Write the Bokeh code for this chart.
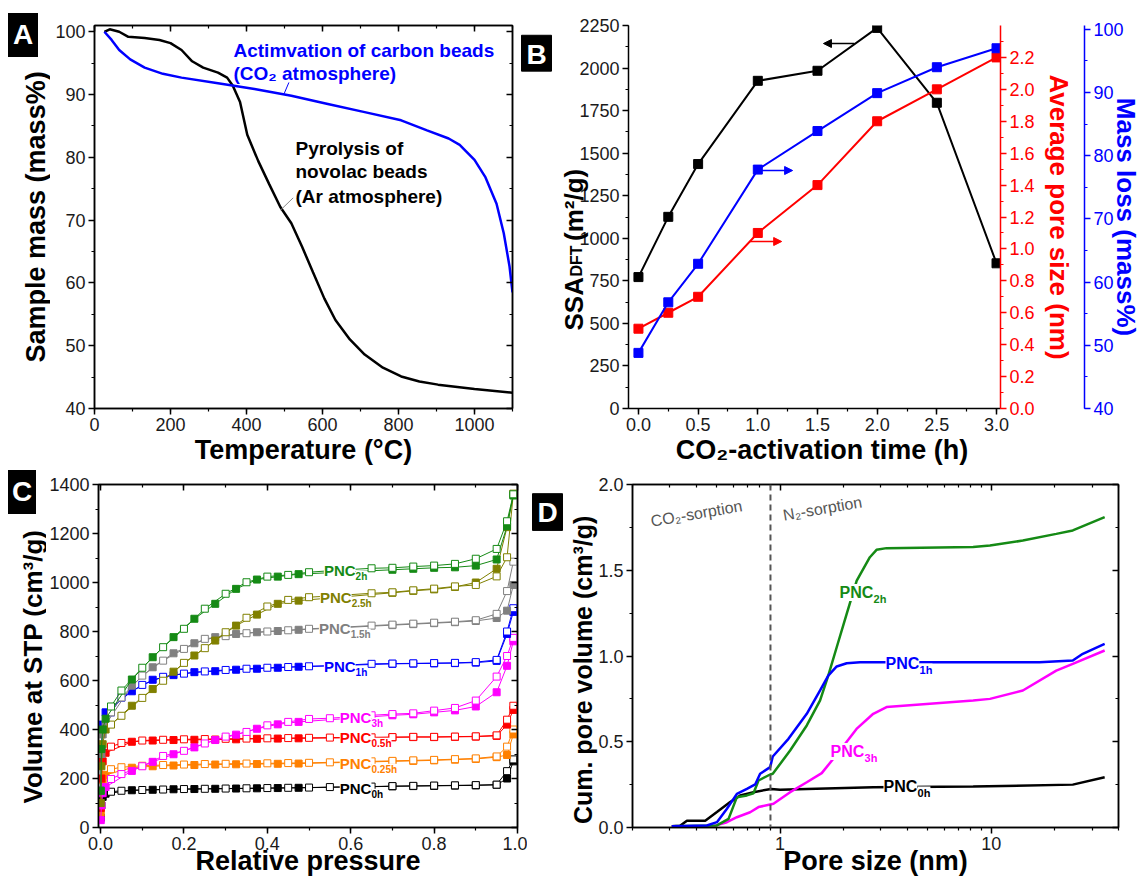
import numpy as np
from bokeh.plotting import figure
from bokeh.models import (Range1d, LinearAxis, LogAxis, SingleIntervalTicker, FixedTicker, Title, Div,
                          PrintfTickFormatter, CustomJSTickFormatter, Label, Arrow, NormalHead, Span)
from bokeh.layouts import column, row
from bokeh.embed import file_html
from bokeh.resources import INLINE

FONT = "Liberation Sans"
NB = "\u00a0"

# ---------------- Panel A: TGA ----------------
A_T_PYRO = [26, 40, 65, 89, 132, 171, 200, 229, 257, 286, 325, 349, 364, 383, 402, 431, 460, 489,
            518, 546, 575, 605, 634, 672, 711, 759, 807, 855, 904, 1000, 1100]
A_M_PYRO = [100.0, 100.4, 100.0, 99.2, 99.0, 98.7, 98.2, 97.1, 95.3, 94.3, 93.5, 92.7, 91.4, 88.8,
            83.6, 79.4, 75.7, 72.1, 69.5, 65.8, 61.7, 57.5, 54.1, 51.0, 48.6, 46.5, 45.1, 44.3,
            43.8, 43.1, 42.5]
A_T_ACT = [26, 45, 65, 94, 132, 180, 229, 325, 421, 518, 614, 711, 807, 875, 932, 961, 1000, 1029,
           1058, 1077, 1092, 1100]
A_M_ACT = [100.0, 98.7, 97.1, 95.6, 94.3, 93.3, 92.7, 91.8, 90.9, 89.8, 88.5, 87.2, 85.9, 84.3,
           83.0, 82.0, 79.6, 76.8, 72.6, 67.9, 62.7, 58.5]

# ---------------- Panel B ----------------
B_TIME = [0.0, 0.25, 0.5, 1.0, 1.5, 2.0, 2.5, 3.0]
B_SSA = [772, 1126, 1436, 1925, 1984, 2236, 1796, 853]
B_PORE = [0.50, 0.60, 0.70, 1.10, 1.40, 1.80, 2.00, 2.20]
B_MASSLOSS = [48.8, 56.8, 62.9, 77.8, 83.9, 89.9, 94.0, 97.0]

# ---------------- Panel C: isotherms ----------------
C_P_ADS = [0.0005, 0.002, 0.005, 0.012, 0.075, 0.125, 0.175, 0.225, 0.275, 0.325, 0.375, 0.425,
           0.475, 0.70, 0.75, 0.80, 0.85, 0.90, 0.95, 0.975, 0.99]
C_P_DES = [0.99, 0.975, 0.95, 0.90, 0.85, 0.80, 0.75, 0.70, 0.65, 0.55, 0.50, 0.45, 0.40, 0.35,
           0.30, 0.25, 0.20, 0.15, 0.10, 0.05, 0.025]
C_ADS_0H = [40, 90, 125, 138, 152, 154, 156, 157, 158, 159, 160, 161, 162, 168, 169, 170, 171, 172, 174, 200, 270]
C_DES_0H = [278, 230, 175, 173, 172, 171, 170, 169, 167, 165, 163, 162, 161, 160, 159, 158, 157, 155, 153, 150, 146]
C_ADS_025H = [60, 150, 195, 215, 244, 250, 253, 255, 257, 258, 259, 260, 261, 270, 272, 274, 277, 280, 287, 296, 380]
C_DES_025H = [400, 330, 290, 282, 279, 276, 274, 272, 270, 266, 264, 263, 262, 261, 260, 259, 257, 255, 252, 246, 238]
C_ADS_05H = [80, 200, 270, 305, 350, 355, 357, 358, 359, 360, 362, 363, 364, 368, 369, 369, 370, 371, 374, 420, 480]
C_DES_05H = [497, 440, 376, 372, 371, 370, 370, 369, 368, 367, 366, 365, 364, 363, 362, 361, 360, 358, 355, 345, 330]
C_ADS_1H = [150, 330, 420, 470, 556, 603, 622, 634, 638, 644, 648, 652, 656, 668, 669, 670, 671, 673, 680, 790, 880]
C_DES_1H = [895, 800, 684, 675, 672, 671, 670, 669, 668, 660, 658, 655, 652, 648, 643, 637, 628, 615, 582, 530, 470]
C_ADS_15H = [150, 300, 380, 420, 579, 654, 711, 752, 777, 790, 797, 802, 807, 826, 830, 834, 838, 843, 855, 885, 990]
C_DES_15H = [1085, 965, 872, 846, 840, 836, 832, 828, 824, 815, 811, 805, 800, 793, 781, 770, 729, 681, 620, 531, 470]
C_ADS_2H = [150, 320, 400, 444, 604, 695, 777, 852, 913, 974, 1012, 1024, 1034, 1052, 1056, 1060, 1062, 1069, 1094, 1230, 1355]
C_DES_2H = [1360, 1250, 1137, 1097, 1076, 1069, 1065, 1060, 1058, 1048, 1042, 1031, 1024, 1001, 954, 893, 811, 736, 652, 559, 494]
C_ADS_25H = [100, 250, 340, 400, 497, 565, 636, 702, 763, 824, 869, 913, 926, 958, 966, 972, 982, 1000, 1056, 1226, 1362]
C_DES_25H = [1362, 1103, 1025, 990, 984, 975, 968, 960, 956, 945, 940, 929, 902, 856, 797, 732, 672, 599, 529, 456, 420]
C_ADS_3H = [30, 90, 140, 165, 231, 268, 299, 327, 357, 379, 403, 421, 431, 458, 462, 470, 478, 494, 552, 660, 760]
C_DES_3H = [774, 700, 616, 518, 488, 477, 466, 463, 458, 446, 443, 431, 417, 390, 371, 343, 313, 292, 250, 218, 198]

# ---------------- Panel D: cumulative pore volume ----------------
D_D_0H = [0.307, 0.336, 0.362, 0.442, 0.502, 0.58, 0.647, 0.748, 0.906, 1.0, 1.34, 2.76, 8.2, 24.3, 34.4]
D_V_0H = [0.008, 0.01, 0.04, 0.04, 0.09, 0.148, 0.187, 0.206, 0.225, 0.22, 0.225, 0.235, 0.239, 0.25, 0.293]
D_D_1H = [0.307, 0.45, 0.502, 0.56, 0.624, 0.696, 0.762, 0.804, 0.897, 0.923, 1.095, 1.337, 1.546, 1.69,
          1.853, 2.066, 2.39, 8.2, 16.9, 24.3, 27.1, 34.4]
D_V_1H = [0.008, 0.012, 0.031, 0.109, 0.196, 0.225, 0.251, 0.313, 0.352, 0.414, 0.517, 0.663, 0.799, 0.886,
          0.939, 0.958, 0.964, 0.964, 0.964, 0.974, 1.013, 1.071]
D_D_2H = [0.307, 0.502, 0.57, 0.624, 0.696, 0.748, 0.79, 0.897, 0.923, 1.115, 1.337, 1.546, 1.69, 1.853,
          2.066, 2.305, 2.66, 2.86, 3.19, 8.2, 9.85, 14.1, 20.3, 24.3, 34.4]
D_V_2H = [0.008, 0.012, 0.05, 0.177, 0.187, 0.2, 0.274, 0.309, 0.313, 0.449, 0.595, 0.741, 0.886, 1.051,
          1.246, 1.44, 1.576, 1.619, 1.629, 1.635, 1.644, 1.673, 1.712, 1.732, 1.81]
D_D_3H = [0.307, 0.484, 0.56, 0.624, 0.721, 0.79, 0.897, 0.93, 1.115, 1.337, 1.574, 1.92, 2.3, 2.76, 3.19,
          8.2, 9.85, 14.1, 20.3, 24.3, 34.4]
D_V_3H = [0.008, 0.008, 0.031, 0.06, 0.089, 0.119, 0.134, 0.138, 0.206, 0.264, 0.317, 0.449, 0.575, 0.663,
          0.702, 0.741, 0.75, 0.799, 0.915, 0.954, 1.032]

GREEN = "#158a15"
OLIVE = "#808000"
GRAY = "#808080"
BLUE = "#0000ff"
MAGENTA = "#ff00ff"
RED = "#ff0000"
ORANGE = "#ff8000"
BLACK = "#000000"


# ---------------- helpers ----------------
def conv_factory(L, R, T, B, xr, yr, xlog=False):
    def conv(X, Y):
        fx = (X - L) / (R - L)
        if xlog:
            a, b = np.log10(xr[0]), np.log10(xr[1])
            x = 10 ** (a + fx * (b - a))
        else:
            x = xr[0] + fx * (xr[1] - xr[0])
        fy = (B - Y) / (B - T)
        y = yr[0] + fy * (yr[1] - yr[0])
        return float(x), float(y)
    return conv


def make_fig(ox, oy, w, h, L, R, T, B, xr, yr, x_type="linear"):
    p = figure(width=w, height=h, x_range=Range1d(*xr), y_range=Range1d(*yr), x_axis_type=x_type,
               output_backend="svg", toolbar_location=None,
               min_border_left=L - ox, min_border_right=ox + w - R,
               min_border_top=T - oy, min_border_bottom=oy + h - B)
    p.grid.visible = False
    p.background_fill_color = "white"
    p.border_fill_color = "white"
    p.outline_line_color = "black"
    p.outline_line_width = 1.5
    return p


def text_fig(ox, oy, w, h):
    t = figure(width=w, height=h, x_range=Range1d(ox, ox + w), y_range=Range1d(-(oy + h), -oy),
               output_backend="svg", toolbar_location=None, min_border=0,
               x_axis_location=None, y_axis_location=None)
    t.grid.visible = False
    t.outline_line_color = None
    t.background_fill_color = "white"
    t.border_fill_color = "white"
    return t


def title_strip(ox, oy, w, h, text, fs, start_y, center_x, h_est):
    t = figure(width=w, height=h, x_range=Range1d(0, 1), y_range=Range1d(0, 1),
               output_backend="svg", toolbar_location=None,
               min_border_left=w - 1, min_border_right=0, min_border_top=0, min_border_bottom=0,
               x_axis_location=None, y_axis_location=None)
    t.grid.visible = False
    t.outline_line_color = None
    t.background_fill_color = "white"
    t.border_fill_color = "white"
    so = int(round(2 * (ox + w - 1 - center_x) - 2 - h_est))
    t.add_layout(Title(text=text, text_font=FONT, text_font_size=f"{fs}px", text_font_style="bold",
                       text_color="black", align="left", offset=(oy + h) - start_y,
                       vertical_align="middle", standoff=so), "left")
    return t


def letter_div(w, h, left, top, bw, bh, letter):
    html = (f'<div style="padding:{top}px 0 0 {left}px;margin:0;">'
            f'<div style="width:{bw}px;height:{bh}px;background:#000;color:#fff;margin:0;'
            f"font-family:'Liberation Sans',Arial,sans-serif;font-weight:bold;font-size:28px;"
            f'text-align:center;line-height:{bh}px;">{letter}</div></div>')
    return Div(text=html, width=w, height=h, margin=0)


def page(X, Y):
    return float(X), float(-Y)


def style_axis(ax, color="black", inward=False, show_labels=True):
    ax.axis_line_color = color
    ax.axis_line_width = 1.5
    ax.major_tick_line_color = color
    ax.minor_tick_line_color = color
    ax.major_tick_line_width = 1.5
    ax.minor_tick_line_width = 1.2
    if inward:
        ax.major_tick_in, ax.major_tick_out = 6, 0
        ax.minor_tick_in, ax.minor_tick_out = 3, 0
    else:
        ax.major_tick_in, ax.major_tick_out = 0, 6
        ax.minor_tick_in, ax.minor_tick_out = 0, 3
    ax.major_label_text_font = FONT
    ax.major_label_text_color = color if color != "black" else "#1a1a1a"
    ax.axis_label = None
    if show_labels:
        ax.major_label_text_font_size = "18px"
        ax.major_label_standoff = 3
    else:
        ax.major_label_text_font_size = "0px"
        ax.major_label_standoff = 0
        ax.formatter = CustomJSTickFormatter(code="return ''")


def axis_title(ax, text, standoff, color="black", fs=27):
    ax.axis_label = text
    ax.axis_label_text_font = FONT
    ax.axis_label_text_font_size = f"{fs}px"
    ax.axis_label_text_font_style = "bold"
    ax.axis_label_text_color = color
    ax.axis_label_standoff = standoff


def add_mirror(p, side, ticker, log=False):
    ax = (LogAxis if log else LinearAxis)(ticker=ticker)
    style_axis(ax, inward=True, show_labels=False)
    p.add_layout(ax, side)


def label(p, conv, X, Y, text, fs, color="black", bold=False, angle=0.0, align="left",
          baseline="middle", bg=None):
    x, y = conv(X, Y)
    kw = dict(x=x, y=y, text=text, text_font=FONT, text_font_size=f"{fs}px", text_color=color,
              text_font_style="bold" if bold else "normal", angle=angle, text_align=align,
              text_baseline=baseline)
    if bg:
        kw["background_fill_color"] = bg
    p.add_layout(Label(**kw))


def pnc_label(p, conv, X, Y, sub, color, fs, sfs, bg="white"):
    label(p, conv, X, Y, "PNC", fs, color=color, bold=True, bg=bg)
    label(p, conv, X + fs * 2.13, Y + fs * 0.38, sub, sfs, color=color, bold=True, bg=bg)


def box_letter(t, X, Y, letter, w=30, h=44):
    t.quad(left=[X - w / 2], right=[X + w / 2], top=[-(Y - h / 2)], bottom=[-(Y + h / 2)],
           fill_color="black", line_color="black")
    label(t, page, X, Y + 1, letter, 28, color="white", bold=True, align="center")


# ================= TOP ROW =================
tA_box = letter_div(50, 60, 8, 13, 30, 44, "A")
tA_title = title_strip(0, 60, 50, 410, "Sample mass (mass%)", 27, 362, 34, 33)
tA = column(tA_box, tA_title)

# ---------------- Panel A ----------------
A_BOX = (94, 512, 18, 408)
A_XR, A_YR = (0, 1100), (40, 101)
pA = make_fig(50, 0, 470, 470, *A_BOX, A_XR, A_YR)
cA = conv_factory(*A_BOX, A_XR, A_YR)
tx = SingleIntervalTicker(interval=200, num_minor_ticks=2)
ty = SingleIntervalTicker(interval=10, num_minor_ticks=2)
pA.xaxis[0].ticker = tx
pA.yaxis[0].ticker = ty
style_axis(pA.xaxis[0])
style_axis(pA.yaxis[0])
axis_title(pA.xaxis[0], "Temperature (\u00b0C)", 1)
add_mirror(pA, "above", tx)
add_mirror(pA, "right", ty)
pA.line(A_T_PYRO, A_M_PYRO, line_color=BLACK, line_width=2.5)
pA.line(A_T_ACT, A_M_ACT, line_color=BLUE, line_width=2.5)
x0, y0 = cA(288.4, 76)
x1, y1 = cA(283.6, 87.5)
pA.segment(x0=[x0], y0=[y0], x1=[x1], y1=[y1], line_color=BLUE, line_width=1)
x0, y0 = cA(292.7, 193.5)
x1, y1 = cA(280, 206)
pA.segment(x0=[x0], y0=[y0], x1=[x1], y1=[y1], line_color="#888888", line_width=1)
label(pA, cA, 233, 43, "Actimvation of carbon beads", 19, color=BLUE, bold=True)
label(pA, cA, 233, 67, "(CO\u2082 atmosphere)", 19, color=BLUE, bold=True)
label(pA, cA, 295, 143, "Pyrolysis of", 19, bold=True)
label(pA, cA, 295, 167, "novolac beads", 19, bold=True)
label(pA, cA, 295, 192, "(Ar atmosphere)", 19, bold=True)

tB = text_fig(520, 0, 32, 470)
box_letter(tB, 536, 34, "B")

# ---------------- Panel B ----------------
B_BOX = (628, 1002, 25, 408)
B_XR, B_YR = (-0.0833, 3.0333), (0, 2250)
pB = make_fig(552, 0, 591, 470, *B_BOX, B_XR, B_YR)
pB.outline_line_color = None
cB = conv_factory(*B_BOX, B_XR, B_YR)
pB.extra_y_ranges = {"pore": Range1d(0, 2.4), "mass": Range1d(40, 100.6)}
pB.xaxis[0].ticker = SingleIntervalTicker(interval=0.5, num_minor_ticks=2)
pB.xaxis[0].formatter = PrintfTickFormatter(format="%.1f")
pB.yaxis[0].ticker = SingleIntervalTicker(interval=250, num_minor_ticks=2)
style_axis(pB.xaxis[0])
style_axis(pB.yaxis[0])
axis_title(pB.xaxis[0], NB * 2 + "CO\u2082-activation time (h)", 1)

t_dft = Title(text="DFT", text_font=FONT, text_font_size="16px", text_font_style="bold",
              text_color="black", align="left", offset=132, vertical_align="middle", standoff=-18)
pB.add_layout(t_dft, "left")
t_ssa = Title(text="SSA" + NB * 5 + "(m\u00b2/g)", text_font=FONT, text_font_size="26px",
              text_font_style="bold", text_color="black", align="left", offset=78,
              vertical_align="middle", standoff=-28)
pB.add_layout(t_ssa, "left")

red_ax = LinearAxis(y_range_name="pore", ticker=SingleIntervalTicker(interval=0.2, num_minor_ticks=2),
                    formatter=PrintfTickFormatter(format="%.1f"))
style_axis(red_ax, color=RED)
axis_title(red_ax, "Average pore size (nm)", 6, color=RED, fs=26)
pB.add_layout(red_ax, "right")
spacer = LinearAxis(y_range_name="pore", ticker=FixedTicker(ticks=[1.2]),
                    formatter=CustomJSTickFormatter(code="return ''"))
spacer.axis_line_color = None
spacer.major_tick_line_color = None
spacer.minor_tick_line_color = None
spacer.major_tick_in = 0
spacer.major_tick_out = 8
spacer.major_label_text_font_size = "0px"
spacer.major_label_standoff = 0
pB.add_layout(spacer, "right")
blue_ax = LinearAxis(y_range_name="mass", ticker=SingleIntervalTicker(interval=10, num_minor_ticks=2))
style_axis(blue_ax, color=BLUE)
axis_title(blue_ax, "Mass loss (mass%)", -16, color=BLUE, fs=26)
pB.add_layout(blue_ax, "right")

pB.line(B_TIME, B_SSA, line_color=BLACK, line_width=2)
pB.scatter(B_TIME, B_SSA, marker="square", size=9, color=BLACK)
pB.line(B_TIME, B_PORE, line_color=RED, line_width=2, y_range_name="pore")
pB.scatter(B_TIME, B_PORE, marker="square", size=9, color=RED, y_range_name="pore")
pB.line(B_TIME, B_MASSLOSS, line_color=BLUE, line_width=2, y_range_name="mass")
pB.scatter(B_TIME, B_MASSLOSS, marker="square", size=9, color=BLUE, y_range_name="mass")

for (xs, ys, xe, ye, col) in [(855, 43, 824, 43, BLACK), (758, 170, 793, 170, BLUE), (750, 241, 782, 241, RED)]:
    a0, b0 = cB(xs, ys)
    a1, b1 = cB(xe, ye)
    pB.add_layout(Arrow(end=NormalHead(size=8, fill_color=col, line_color=col, line_width=1),
                        x_start=a0, y_start=b0, x_end=a1, y_end=b1, line_color=col, line_width=1.5))

# ================= BOTTOM ROW =================
tC_box = letter_div(46, 48, 8, 0, 28, 44, "C")
tC_title = title_strip(0, 518, 46, 363, "Volume at STP (cm\u00b3/g)", 26, 803, 31, 32)
tC = column(tC_box, tC_title)

# ---------------- Panel C ----------------
C_BOX = (95, 517, 484, 827)
C_XR, C_YR = (-0.005, 1.0), (0, 1400)
pC = make_fig(46, 470, 481, 411, *C_BOX, C_XR, C_YR)
cC = conv_factory(*C_BOX, C_XR, C_YR)
tx = SingleIntervalTicker(interval=0.2, num_minor_ticks=2)
ty = SingleIntervalTicker(interval=200, num_minor_ticks=2)
pC.xaxis[0].ticker = tx
pC.xaxis[0].formatter = PrintfTickFormatter(format="%.1f")
pC.yaxis[0].ticker = ty
style_axis(pC.xaxis[0])
style_axis(pC.yaxis[0])
axis_title(pC.xaxis[0], "Relative pressure", -7)
add_mirror(pC, "above", tx)
add_mirror(pC, "right", ty)

C_SERIES = [
    (C_ADS_0H, C_DES_0H, BLACK),
    (C_ADS_025H, C_DES_025H, ORANGE),
    (C_ADS_05H, C_DES_05H, RED),
    (C_ADS_3H, C_DES_3H, MAGENTA),
    (C_ADS_1H, C_DES_1H, BLUE),
    (C_ADS_15H, C_DES_15H, GRAY),
    (C_ADS_25H, C_DES_25H, OLIVE),
    (C_ADS_2H, C_DES_2H, GREEN),
]
for ads, des, col in C_SERIES:
    pC.line(C_P_ADS, ads, line_color=col, line_width=1)
    pC.line(C_P_DES, des, line_color=col, line_width=1)
    pC.scatter(C_P_ADS, ads, marker="square", size=7, fill_color=col, line_color=col)
    pC.scatter(C_P_DES, des, marker="square", size=7, fill_color="white", line_color=col, line_width=1)

for X, Y, sub, col in [(322, 570, "2h", GREEN), (318, 597, "2.5h", OLIVE), (317, 628, "1.5h", GRAY),
                       (322, 666, "1h", BLUE), (338, 717, "3h", MAGENTA), (338, 737, "0.5h", RED),
                       (338, 763, "0.25h", ORANGE), (338, 788, "0h", BLACK)]:
    pnc_label(pC, cC, X, Y, sub, col, 15, 10)

tD = text_fig(527, 470, 38, 411)
box_letter(tD, 547, 503, "D")

# ---------------- Panel D ----------------
D_BOX = (632, 1118, 484, 827)
D_XR, D_YR = (0.2, 40), (0, 2.0)
pD = make_fig(565, 470, 578, 411, *D_BOX, D_XR, D_YR, x_type="log")
cD = conv_factory(*D_BOX, D_XR, D_YR, xlog=True)
minor = [0.2, 0.3, 0.4, 0.5, 0.6, 0.7, 0.8, 0.9, 2, 3, 4, 5, 6, 7, 8, 9, 20, 30, 40]
tx = FixedTicker(ticks=[1, 10], minor_ticks=minor)
ty = SingleIntervalTicker(interval=0.5, num_minor_ticks=2)
pD.xaxis[0].ticker = tx
pD.xaxis[0].formatter = PrintfTickFormatter(format="%d")
pD.yaxis[0].ticker = ty
pD.yaxis[0].formatter = PrintfTickFormatter(format="%.1f")
style_axis(pD.xaxis[0])
style_axis(pD.yaxis[0])
axis_title(pD.xaxis[0], "Pore size (nm)", -7)
axis_title(pD.yaxis[0], "Cum. pore volume (cm\u00b3/g)" + NB * 4, -2, fs=25)
add_mirror(pD, "above", tx, log=True)
add_mirror(pD, "right", ty)

pD.add_layout(Span(location=0.9, dimension="height", line_color="#555555", line_dash="6 4", line_width=2))
pD.line(D_D_0H, D_V_0H, line_color=BLACK, line_width=2.5)
pD.line(D_D_3H, D_V_3H, line_color=MAGENTA, line_width=2.5)
pD.line(D_D_2H, D_V_2H, line_color=GREEN, line_width=2.5)
pD.line(D_D_1H, D_V_1H, line_color=BLUE, line_width=2.5)

for X, Y, sub, col in [(839, 592, "2h", GREEN), (885, 663, "1h", BLUE), (830, 751, "3h", MAGENTA),
                       (883, 786, "0h", BLACK)]:
    pnc_label(pD, cD, X, Y, sub, col, 16, 11)

label(pD, cD, 696, 513, "CO\u2082-sorption", 16, color="#555555", align="center", angle=0.17)
label(pD, cD, 822, 508, "N\u2082-sorption", 16, color="#555555", align="center", angle=0.17)

layout = column(row(tA, pA, tB, pB), row(tC, pC, tD, pD))
open("out.html", "w").write(file_html(layout, INLINE))
